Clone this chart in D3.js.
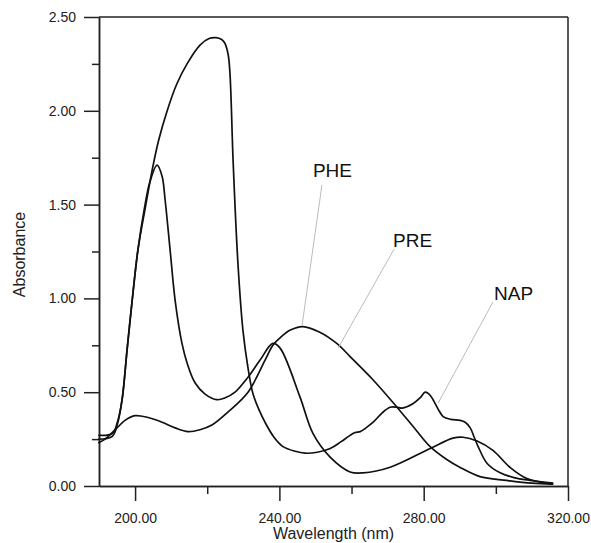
<!DOCTYPE html>
<html lang="en">
<head>
<meta charset="UTF-8">
<script src="https://d3js.org/d3.v7.min.js"></script>
<style>
  body { margin: 0; background: #fff; }
  svg { display: block; font-family: "Liberation Sans", Arial, sans-serif; }
  .axis text { font-size: 14px; fill: #222; }
  .axis path, .axis line { stroke: #222; stroke-width: 1.5; }
</style>
</head>
<body>
<div id="chart"></div>
<script>
// Spectra: [wavelength nm, absorbance]
const napSpectrum = [
  [189.8, 0.27], [193.7, 0.28], [195.1, 0.34], [196.4, 0.46], [197.8, 0.73], [199.2, 0.99],
  [200.8, 1.26], [202.8, 1.48], [204.7, 1.68], [206.5, 1.84], [208.9, 2.00], [211.5, 2.14],
  [214.4, 2.25], [218.0, 2.35], [220.5, 2.385], [222.4, 2.39], [224.0, 2.38], [224.9, 2.36],
  [225.8, 2.30], [226.3, 2.20], [227.2, 1.72], [228.5, 1.19], [229.9, 0.83], [231.3, 0.63],
  [232.7, 0.49], [234.5, 0.40], [236.0, 0.34], [238.5, 0.26], [241.0, 0.21], [244.4, 0.185],
  [247.1, 0.175], [250.5, 0.18], [254.1, 0.20], [257.0, 0.235], [259.6, 0.27], [261.0, 0.285],
  [262.4, 0.29], [264.0, 0.31], [266.0, 0.34], [268.5, 0.39], [270.7, 0.42], [272.5, 0.42],
  [274.0, 0.415], [277.1, 0.44], [279.0, 0.47], [280.4, 0.50], [281.5, 0.49], [282.6, 0.46],
  [284.0, 0.41], [285.4, 0.37], [287.5, 0.355], [290.1, 0.35], [291.5, 0.34], [292.9, 0.31],
  [294.0, 0.26], [295.1, 0.21], [297.6, 0.12], [301.2, 0.07], [305.0, 0.045], [309.5, 0.03],
  [315.9, 0.015]
];

const secondSpectrum = [
  [189.8, 0.25], [193.7, 0.265], [195.1, 0.33], [196.4, 0.46], [197.8, 0.73], [199.2, 0.99],
  [200.8, 1.26], [202.5, 1.47], [204.1, 1.62], [206.1, 1.71], [207.5, 1.65], [208.3, 1.53],
  [209.7, 1.26], [211.1, 0.99], [213.0, 0.76], [214.5, 0.65], [216.6, 0.55], [219.4, 0.49],
  [222.7, 0.46], [225.0, 0.47], [227.7, 0.50], [231.3, 0.58], [234.6, 0.67], [238.2, 0.76],
  [240.2, 0.735], [245.7, 0.475], [249.3, 0.28], [254.0, 0.155], [259.6, 0.075], [263.2, 0.07],
  [270.7, 0.10], [281.8, 0.20], [288.1, 0.255], [290.9, 0.26], [294.8, 0.24], [299.2, 0.19],
  [303.9, 0.10], [308.6, 0.04], [315.9, 0.01]
];

const pheSpectrum = [
  [189.8, 0.23], [191.7, 0.25], [194.5, 0.30], [197.2, 0.35], [200.0, 0.375], [203.6, 0.365],
  [207.5, 0.34], [211.1, 0.31], [214.7, 0.29], [218.0, 0.30], [221.3, 0.325], [225.8, 0.395],
  [231.3, 0.50], [236.0, 0.67], [238.2, 0.75], [240.2, 0.79], [242.9, 0.83], [246.5, 0.85],
  [251.2, 0.82], [255.9, 0.76], [259.6, 0.69], [266.0, 0.565], [272.6, 0.42], [277.8, 0.30],
  [281.8, 0.21], [286.5, 0.14], [290.0, 0.10], [295.6, 0.05], [303.0, 0.03], [310.0, 0.015],
  [315.9, 0.01]
];

const spectra = [napSpectrum, secondSpectrum, pheSpectrum];

// Tick values
const xMajorTicks = [200, 240, 280, 320];
const xMinorTicks = [220, 260, 300];
const yMajorTicks = [0, 0.5, 1, 1.5, 2, 2.5];
const yMinorTicks = [0.25, 0.75, 1.25, 1.75, 2.25];

// Labels with leader lines (data units)
const labels = [
  { name: "PHE", at: [249.3, 1.647], from: [251.8, 1.605], to: [246.3, 0.858] },
  { name: "PRE", at: [271.5, 1.274], from: [271.8, 1.263], to: [256.3, 0.736] },
  { name: "NAP", at: [299.5, 0.991], from: [299.2, 0.981], to: [284.0, 0.442] }
];

const width = 591;
const height = 543;
const margin = { top: 17, right: 23, bottom: 57, left: 99 };
const innerWidth = width - margin.left - margin.right;
const innerHeight = height - margin.top - margin.bottom;

const svg = d3.select("#chart")
  .append("svg")
  .attr("width", width)
  .attr("height", height);

const g = svg.append("g")
  .attr("transform", `translate(${margin.left},${margin.top})`);

const x = d3.scaleLinear().domain([190, 320]).range([0, innerWidth]);
const y = d3.scaleLinear().domain([0, 2.5]).range([innerHeight, 0]);

// Frame top and right
g.append("line")
  .attr("x1", 0).attr("x2", innerWidth).attr("y1", 0).attr("y2", 0)
  .attr("stroke", "#222").attr("stroke-width", 1.5);
g.append("line")
  .attr("x1", innerWidth).attr("x2", innerWidth).attr("y1", 0).attr("y2", innerHeight)
  .attr("stroke", "#222").attr("stroke-width", 1.5);

// Axes (minor ticks first, their empty labels dropped)
g.append("g")
  .attr("class", "axis")
  .attr("transform", `translate(0,${innerHeight})`)
  .call(d3.axisBottom(x).tickValues(xMinorTicks).tickSize(8).tickSizeOuter(0))
  .call(a => a.selectAll("text").remove());
g.append("g")
  .attr("class", "axis")
  .attr("transform", `translate(0,${innerHeight})`)
  .call(d3.axisBottom(x).tickValues(xMajorTicks).tickSize(15).tickSizeOuter(0)
    .tickPadding(12).tickFormat(d3.format(".2f")));

g.append("g")
  .attr("class", "axis")
  .call(d3.axisLeft(y).tickValues(yMinorTicks).tickSize(7).tickSizeOuter(0))
  .call(a => a.selectAll("text").remove());
g.append("g")
  .attr("class", "axis")
  .call(d3.axisLeft(y).tickValues(yMajorTicks).tickSize(15).tickSizeOuter(0)
    .tickPadding(8).tickFormat(d3.format(".2f")));

// Axis titles
svg.append("text")
  .attr("x", margin.left + innerWidth / 2)
  .attr("y", 539)
  .attr("text-anchor", "middle")
  .style("font-size", "16px")
  .style("fill", "#222")
  .text("Wavelength (nm)");

svg.append("text")
  .attr("transform", `translate(25,${margin.top + innerHeight / 2 + 3}) rotate(-90)`)
  .attr("text-anchor", "middle")
  .style("font-size", "16px")
  .style("fill", "#222")
  .text("Absorbance");

// Spectra
const line = d3.line()
  .x(d => x(d[0]))
  .y(d => y(d[1]))
  .curve(d3.curveCatmullRom.alpha(0.5));

g.selectAll(".spectrum")
  .data(spectra)
  .join("path")
  .attr("class", "spectrum")
  .attr("fill", "none")
  .attr("stroke", "#111")
  .attr("stroke-width", 1.7)
  .attr("d", line);

// Labels and leaders
g.selectAll(".leader")
  .data(labels)
  .join("line")
  .attr("class", "leader")
  .attr("x1", d => x(d.from[0])).attr("y1", d => y(d.from[1]))
  .attr("x2", d => x(d.to[0])).attr("y2", d => y(d.to[1]))
  .attr("stroke", "#bbb")
  .attr("stroke-width", 1);

g.selectAll(".label")
  .data(labels)
  .join("text")
  .attr("class", "label")
  .attr("x", d => x(d.at[0]))
  .attr("y", d => y(d.at[1]))
  .style("font-size", "19px")
  .style("fill", "#111")
  .text(d => d.name);
</script>
</body>
</html>
